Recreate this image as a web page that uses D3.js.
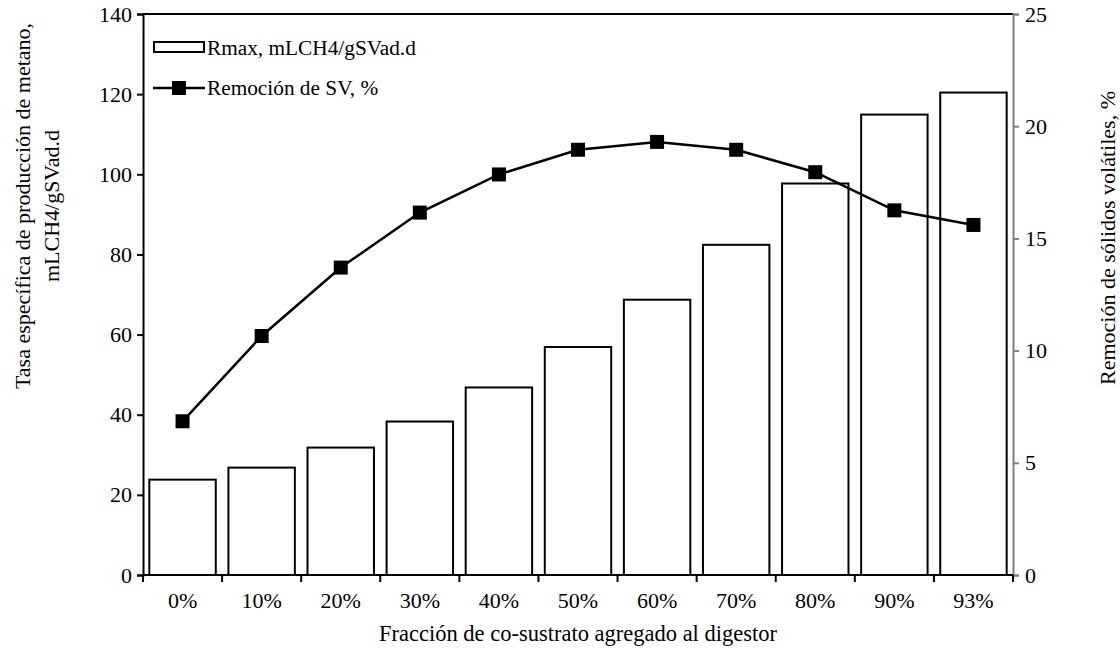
<!DOCTYPE html>
<html>
<head>
<meta charset="utf-8">
<style>
  body { margin: 0; background: #fff; }
  text { font-family: "Liberation Serif", "Times New Roman", serif; fill: #000; }
</style>
</head>
<body>
<script src="https://cdn.jsdelivr.net/npm/d3@7"></script>
<script>
// data
var categories = ["0%", "10%", "20%", "30%", "40%", "50%", "60%", "70%", "80%", "90%", "93%"];
var rmax       = [23.8, 26.8, 31.8, 38.3, 46.8, 56.9, 68.7, 82.4, 97.7, 114.9, 120.4];
var removal    = [6.85, 10.65, 13.7, 16.15, 17.85, 18.95, 19.3, 18.95, 17.95, 16.25, 15.6];
var leftTicks  = [0, 20, 40, 60, 80, 100, 120, 140];
var rightTicks = [0, 5, 10, 15, 20, 25];

var W = 1120, H = 649;
var plot = {left: 143, right: 1013, top: 14, bottom: 575};

var svg = d3.select("body").append("svg")
    .attr("width", W)
    .attr("height", H);

var x = d3.scaleBand()
    .domain(categories)
    .range([plot.left, plot.right])
    .paddingInner(0.16)
    .paddingOuter(0.08);

var xb = d3.scaleBand()
    .domain(categories)
    .range([plot.left, plot.right]);

var yL = d3.scaleLinear().domain([0, 140]).range([plot.bottom, plot.top]);
var yR = d3.scaleLinear().domain([0, 25]).range([plot.bottom, plot.top]);

// bars
svg.append("g").selectAll("rect")
    .data(categories)
    .enter().append("rect")
    .attr("x", function(d) { return x(d); })
    .attr("width", x.bandwidth())
    .attr("y", function(d, i) { return yL(rmax[i]); })
    .attr("height", function(d, i) { return plot.bottom - yL(rmax[i]); })
    .attr("fill", "#fff")
    .attr("stroke", "#000")
    .attr("stroke-width", 2);

// top border
svg.append("line")
    .attr("x1", plot.left).attr("x2", plot.right)
    .attr("y1", plot.top).attr("y2", plot.top)
    .attr("stroke", "#000").attr("stroke-width", 2);

// left axis
var gL = svg.append("g")
    .attr("transform", "translate(" + plot.left + ",0)")
    .call(d3.axisLeft(yL).tickValues(leftTicks).tickSize(6).tickPadding(5));
gL.select(".domain").attr("stroke-width", 2);
gL.selectAll(".tick line").attr("stroke-width", 2);
gL.selectAll("text").style("font-size", "22px").attr("font-family", null);

// right axis (gray)
var gR = svg.append("g")
    .attr("transform", "translate(" + plot.right + ",0)")
    .call(d3.axisRight(yR).tickValues(rightTicks).tickSize(6).tickPadding(6));
gR.select(".domain").attr("stroke", "#808080").attr("stroke-width", 2);
gR.selectAll(".tick line").attr("stroke", "#808080").attr("stroke-width", 2);
gR.selectAll("text").style("font-size", "22px").attr("font-family", null);

// bottom axis: ticks at band boundaries
var gB = svg.append("g")
    .attr("transform", "translate(0," + plot.bottom + ")");
gB.append("line")
    .attr("x1", plot.left).attr("x2", plot.right)
    .attr("stroke", "#000").attr("stroke-width", 2);
var bounds = categories.map(function(d) { return xb(d); }).concat([plot.right]);
gB.selectAll(".btick").data(bounds).enter().append("line")
    .attr("x1", function(d) { return d; }).attr("x2", function(d) { return d; })
    .attr("y1", 0).attr("y2", 7)
    .attr("stroke", "#000").attr("stroke-width", 2);
gB.selectAll(".blabel").data(categories).enter().append("text")
    .attr("x", function(d) { return xb(d) + xb.bandwidth() / 2; })
    .attr("y", 33)
    .attr("text-anchor", "middle")
    .style("font-size", "22px")
    .text(function(d) { return d; });

// line series
var line = d3.line()
    .x(function(d, i) { return xb(categories[i]) + xb.bandwidth() / 2; })
    .y(function(d) { return yR(d); });

svg.append("path")
    .datum(removal)
    .attr("d", line)
    .attr("fill", "none")
    .attr("stroke", "#000")
    .attr("stroke-width", 2.5);

svg.append("g").selectAll("rect")
    .data(removal)
    .enter().append("rect")
    .attr("x", function(d, i) { return xb(categories[i]) + xb.bandwidth() / 2 - 7; })
    .attr("y", function(d) { return yR(d) - 7; })
    .attr("width", 14).attr("height", 14)
    .attr("fill", "#000");

// legend
var lg = svg.append("g");
lg.append("rect")
    .attr("x", 154).attr("y", 42).attr("width", 50).attr("height", 10)
    .attr("fill", "#fff").attr("stroke", "#000").attr("stroke-width", 2);
lg.append("text").attr("x", 207).attr("y", 55).style("font-size", "21.3px")
    .text("Rmax, mLCH4/gSVad.d");
lg.append("line").attr("x1", 153).attr("x2", 205).attr("y1", 88).attr("y2", 88)
    .attr("stroke", "#000").attr("stroke-width", 2.5);
lg.append("rect").attr("x", 172).attr("y", 81).attr("width", 14).attr("height", 14)
    .attr("fill", "#000");
lg.append("text").attr("x", 207).attr("y", 95).style("font-size", "21.3px")
    .text("Remoción de SV, %");

// axis titles
svg.append("text")
    .attr("transform", "translate(30,206) rotate(-90)")
    .attr("text-anchor", "middle")
    .style("font-size", "22px")
    .text("Tasa específica de producción de metano,");
svg.append("text")
    .attr("transform", "translate(59,206) rotate(-90)")
    .attr("text-anchor", "middle")
    .style("font-size", "22px")
    .text("mLCH4/gSVad.d");
svg.append("text")
    .attr("transform", "translate(1115,238) rotate(-90)")
    .attr("text-anchor", "middle")
    .style("font-size", "22px")
    .text("Remoción de sólidos volátiles, %");
svg.append("text")
    .attr("x", 578).attr("y", 641)
    .attr("text-anchor", "middle")
    .style("font-size", "22.5px")
    .text("Fracción de co-sustrato agregado al digestor");
</script>
</body>
</html>
